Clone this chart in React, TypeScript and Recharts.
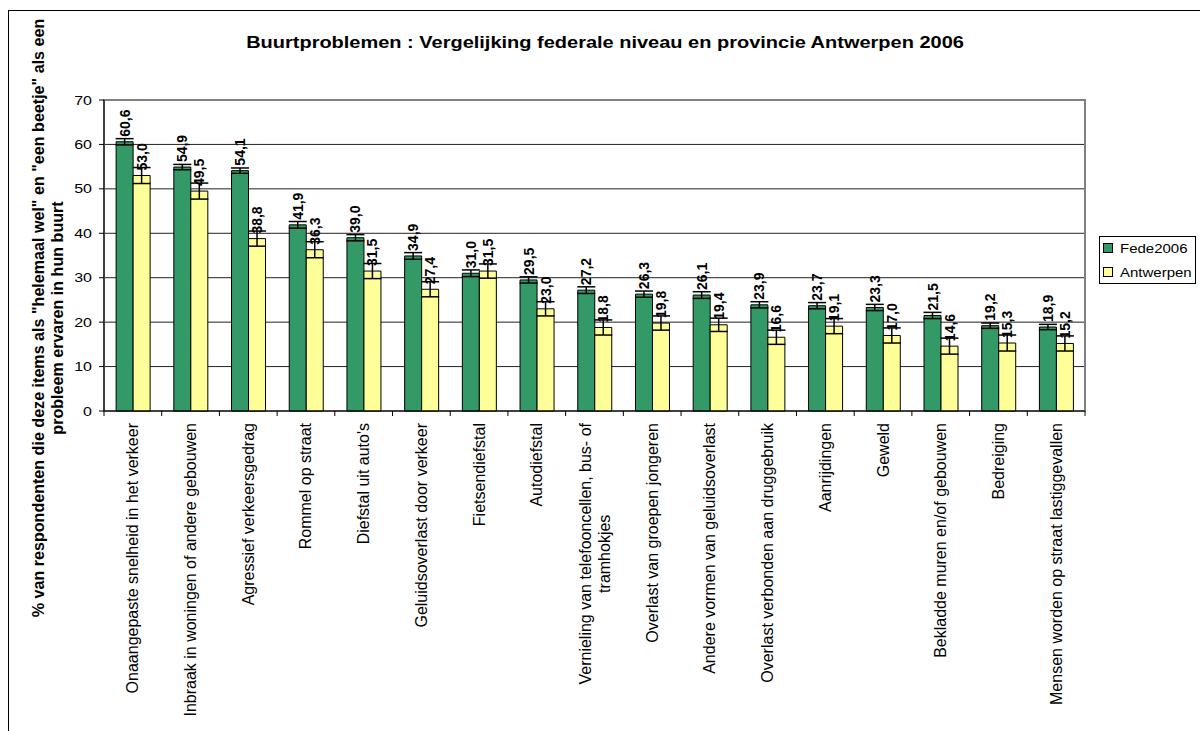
import React from 'react';
import {
  BarChart,
  Bar,
  XAxis,
  YAxis,
  CartesianGrid,
  ErrorBar,
  LabelList,
  Legend,
  ReferenceArea
} from 'recharts';

const categories = [
  'Onaangepaste snelheid in het verkeer',
  'Inbraak in woningen of andere gebouwen',
  'Agressief verkeersgedrag',
  'Rommel op straat',
  "Diefstal uit auto's",
  'Geluidsoverlast door verkeer',
  'Fietsendiefstal',
  'Autodiefstal',
  'Vernieling van telefooncellen, bus- of\ntramhokjes',
  'Overlast van groepen jongeren',
  'Andere vormen van geluidsoverlast',
  'Overlast verbonden aan druggebruik',
  'Aanrijdingen',
  'Geweld',
  'Bekladde muren en/of gebouwen',
  'Bedreiging',
  'Mensen worden op straat lastiggevallen'
];

const fede2006 = [60.6, 54.9, 54.1, 41.9, 39.0, 34.9, 31.0, 29.5, 27.2, 26.3, 26.1, 23.9, 23.7, 23.3, 21.5, 19.2, 18.9];
const antwerpen = [53.0, 49.5, 38.8, 36.3, 31.5, 27.4, 31.5, 23.0, 18.8, 19.8, 19.4, 16.6, 19.1, 17.0, 14.6, 15.3, 15.2];
const fedeError = [0.7, 0.6, 0.6, 0.75, 0.7, 0.75, 0.75, 0.7, 0.75, 0.7, 0.75, 0.7, 0.7, 0.7, 0.7, 0.6, 0.6];
const antwerpenError = [1.8, 1.8, 1.7, 1.8, 1.7, 1.7, 1.6, 1.6, 1.7, 1.6, 1.5, 1.6, 1.7, 1.7, 1.8, 1.8, 1.7];
const yTicks = [0, 10, 20, 30, 40, 50, 60, 70];

const data = categories.map((name, i) => ({
  name,
  fede: fede2006[i],
  antw: antwerpen[i],
  fedeErr: fedeError[i],
  antwErr: antwerpenError[i]
}));

const FONT = '"Liberation Sans", Arial, sans-serif';
const GREEN = '#339966';
const YELLOW = '#FFFF99';

let ctx: CanvasRenderingContext2D | null = null;
const measure = (s: string, font: string) => {
  if (!ctx) ctx = document.createElement('canvas').getContext('2d');
  if (!ctx) return s.length * 8;
  ctx.font = font;
  return ctx.measureText(s).width;
};

const CategoryTick = (props: any) => {
  const { x, y, payload, index } = props;
  const half = payload.offset || 28.85;
  const lines = String(payload.value).split('\n');
  const top = y + 12;
  const isLast = index === categories.length - 1;
  const font = `16px ${FONT}`;
  return (
    <g>
      <line x1={x - half} y1={y} x2={x - half} y2={y + 5} stroke="#000" />
      {isLast && <line x1={x + half} y1={y} x2={x + half} y2={y + 5} stroke="#000" />}
      {lines.length === 1 ? (
        <text
          transform={`translate(${x + 5.5},${top}) rotate(-90)`}
          textAnchor="end"
          fontFamily={FONT}
          fontSize={16}
          fill="#000"
        >
          {lines[0]}
        </text>
      ) : (
        lines.map((line, i) => {
          const w0 = measure(lines[0], font);
          const shift = (w0 - measure(line, font)) / 2;
          return (
            <text
              key={i}
              transform={`translate(${x - 4 + i * 19},${top + shift}) rotate(-90)`}
              textAnchor="end"
              fontFamily={FONT}
              fontSize={16}
              fill="#000"
            >
              {line}
            </text>
          );
        })
      )}
    </g>
  );
};

const ValueTick = (props: any) => {
  const { x, y, payload } = props;
  return (
    <g transform={`translate(${x},${y}) scale(1,0.8)`}>
      <text x={0} y={0} dy="0.36em" textAnchor="end" fontFamily={FONT} fontSize={16} fill="#000">
        {payload.value}
      </text>
    </g>
  );
};

const renderValueLabel = (props: any) => {
  const vb = props.viewBox || props;
  const { x, y, width } = vb;
  const value = Number(props.value);
  return (
    <text
      transform={`translate(${x + width / 2 + 5},${y - 5}) rotate(-90)`}
      textAnchor="start"
      fontFamily={FONT}
      fontSize={14}
      fontWeight="bold"
      fill="#000"
    >
      {value.toFixed(1).replace('.', ',')}
    </text>
  );
};

const LegendBox = () => (
  <svg width={98} height={49} style={{ display: 'block' }}>
    <rect x={0.5} y={0.5} width={96} height={47} fill="#fff" stroke="#000" />
    <rect x={4.5} y={7.5} width={9} height={9} fill={GREEN} stroke="#000" />
    <g transform="translate(21,12) scale(1,0.85)">
      <text x={0} y={0} dy="0.36em" fontFamily={FONT} fontSize={15} fill="#000">Fede2006</text>
    </g>
    <rect x={4.5} y={31.5} width={9} height={9} fill={YELLOW} stroke="#000" />
    <g transform="translate(21,36) scale(1,0.85)">
      <text x={0} y={0} dy="0.36em" fontFamily={FONT} fontSize={15} fill="#000">Antwerpen</text>
    </g>
  </svg>
);

export default function App() {
  return (
    <div
      style={{
        position: 'fixed',
        left: 0,
        top: 0,
        width: 1200,
        height: 731,
        overflow: 'hidden',
        background: '#fff'
      }}
    >
      <div
        style={{
          position: 'absolute',
          left: 8,
          top: 10,
          width: 1200,
          height: 730,
          border: '1px solid #000',
          fontFamily: FONT
        }}
      >
        <BarChart
          width={1189}
          height={719}
          data={data}
          margin={{ top: 89, right: 113, bottom: 0, left: 0 }}
          barCategoryGap="21%"
          barGap={0}
        >
          <CartesianGrid vertical={false} stroke="#222" />
          <ReferenceArea y1={0} y2={70} fill="none" stroke="#808080" strokeWidth={2} ifOverflow="visible" />
          <XAxis
            dataKey="name"
            height={319}
            interval={0}
            tick={CategoryTick}
            tickLine={false}
            tickSize={0}
            tickMargin={0}
            axisLine={{ stroke: '#000' }}
          />
          <YAxis
            width={95}
            domain={[0, 70]}
            ticks={yTicks}
            interval={0}
            tick={ValueTick}
            tickSize={5}
            tickMargin={7}
            tickLine={{ stroke: '#000' }}
            axisLine={{ stroke: '#000' }}
          />
          <Legend
            layout="vertical"
            align="center"
            verticalAlign="middle"
            wrapperStyle={{ left: 1090, top: 225, width: 98 }}
            content={() => <LegendBox />}
          />
          <Bar dataKey="fede" name="Fede2006" fill={GREEN} stroke="#000" strokeWidth={1} isAnimationActive={false}>
            <ErrorBar dataKey="fedeErr" width={9} stroke="#000" strokeWidth={1.5} isAnimationActive={false} />
            <LabelList dataKey="fede" content={renderValueLabel} />
          </Bar>
          <Bar dataKey="antw" name="Antwerpen" fill={YELLOW} stroke="#000" strokeWidth={1} isAnimationActive={false}>
            <ErrorBar dataKey="antwErr" width={9} stroke="#000" strokeWidth={1.5} isAnimationActive={false} />
            <LabelList dataKey="antw" content={renderValueLabel} />
          </Bar>
          <g>
            <g transform="translate(596,36.7) scale(1,0.84)">
              <text x={0} y={0} textAnchor="middle" fontFamily={FONT} fontSize={20} fontWeight="bold" fill="#000">
                Buurtproblemen : Vergelijking federale niveau en provincie Antwerpen 2006
              </text>
            </g>
            <text
              transform="translate(34.5,307) rotate(-90)"
              textAnchor="middle"
              fontFamily={FONT}
              fontSize={16.1}
              fontWeight="bold"
              fill="#000"
            >
              % van respondenten die deze items als "helemaal wel" en "een beetje" als een
            </text>
            <text
              transform="translate(54,307) rotate(-90)"
              textAnchor="middle"
              fontFamily={FONT}
              fontSize={16.1}
              fontWeight="bold"
              fill="#000"
            >
              probleem ervaren in hun buurt
            </text>
          </g>
        </BarChart>
      </div>
    </div>
  );
}
